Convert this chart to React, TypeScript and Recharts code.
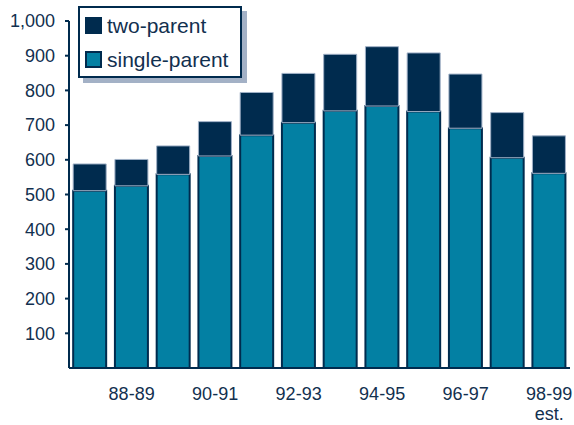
import React from "react";
import { BarChart, Bar, XAxis, YAxis, Legend } from "recharts";

// School years, 87-88 through 98-99 (last one estimated)
const years = [
  "87-88", "88-89", "89-90", "90-91", "91-92", "92-93",
  "93-94", "94-95", "95-96", "96-97", "97-98", "98-99",
];
const singleParent = [511, 525, 558, 611, 671, 707, 741, 755, 739, 691, 606, 561];
const twoParent = [77, 76, 82, 99, 123, 142, 163, 171, 169, 156, 130, 108];
const yTicks = [100, 200, 300, 400, 500, 600, 700, 800, 900, 1000];

const NAVY = "#002b4e";
const TEAL = "#0380a3";
const INK = "#12304f";
const FONT = "'Liberation Sans', Arial, Helvetica, sans-serif";

const data = years.map((year, i) => ({
  year,
  single: singleParent[i],
  two: twoParent[i],
}));

function YearTick({ x, y, payload, index }: any) {
  // only every other year gets a label
  if (index % 2 === 0) return null;
  const last = index === years.length - 1;
  return (
    <g transform={`translate(${x},${y})`}>
      <text textAnchor="middle" fill={INK} fontSize={18} fontFamily={FONT} y={18} dy="0.36em">
        {payload.value}
      </text>
      {last && (
        <text textAnchor="middle" fill={INK} fontSize={18} fontFamily={FONT} y={38} dy="0.36em">
          est.
        </text>
      )}
    </g>
  );
}

function LegendBox() {
  const rows = [
    { label: "two-parent", fill: NAVY },
    { label: "single-parent", fill: TEAL },
  ];
  return (
    <div
      style={{
        width: 160,
        height: 68,
        border: `2px solid ${NAVY}`,
        background: "#fff",
        boxShadow: "5px 5px 0 #a3b1c6",
        fontFamily: FONT,
        fontSize: 21,
        color: INK,
        boxSizing: "content-box",
      }}
    >
      {rows.map((r, i) => (
        <div
          key={r.label}
          style={{
            display: "flex",
            alignItems: "center",
            height: 35,
            marginTop: i === 0 ? 0 : -1,
            paddingLeft: 5,
          }}
        >
          <span
            style={{
              display: "inline-block",
              width: 13,
              height: 13,
              background: r.fill,
              border: `2px solid ${NAVY}`,
              marginRight: 5,
            }}
          />
          <span style={{ lineHeight: "21px" }}>{r.label}</span>
        </div>
      ))}
    </div>
  );
}

export default function App() {
  return (
    <div style={{ position: "absolute", left: 0, top: 0, width: 574, height: 425, background: "#fff" }}>
      <BarChart
        width={574}
        height={425}
        data={data}
        margin={{ top: 21, right: 4, left: 0, bottom: 0 }}
        barCategoryGap="10%"
      >
        <XAxis
          dataKey="year"
          interval={0}
          height={57}
          tickLine={false}
          axisLine={{ stroke: NAVY, strokeWidth: 2 }}
          tick={<YearTick />}
        />
        <YAxis
          width={69}
          domain={[0, 1000]}
          ticks={yTicks}
          interval={0}
          tickSize={4}
          tickMargin={10}
          axisLine={{ stroke: NAVY, strokeWidth: 2 }}
          tickLine={{ stroke: NAVY, strokeWidth: 2 }}
          tick={{ fill: INK, fontSize: 18, fontFamily: FONT }}
          tickFormatter={(v: number) => v.toLocaleString("en-US")}
        />
        <Legend
          layout="horizontal"
          verticalAlign="middle"
          align="center"
          wrapperStyle={{ position: "absolute", top: 6, left: 78, width: 170, height: 80 }}
          content={() => <LegendBox />}
        />
        <Bar
          dataKey="single"
          name="single-parent"
          stackId="kids"
          fill={TEAL}
          stroke={NAVY}
          strokeWidth={2}
          isAnimationActive={false}
        />
        <Bar
          dataKey="two"
          name="two-parent"
          stackId="kids"
          fill={NAVY}
          stroke="#9fb0c6"
          strokeWidth={1}
          isAnimationActive={false}
        />
      </BarChart>
    </div>
  );
}
